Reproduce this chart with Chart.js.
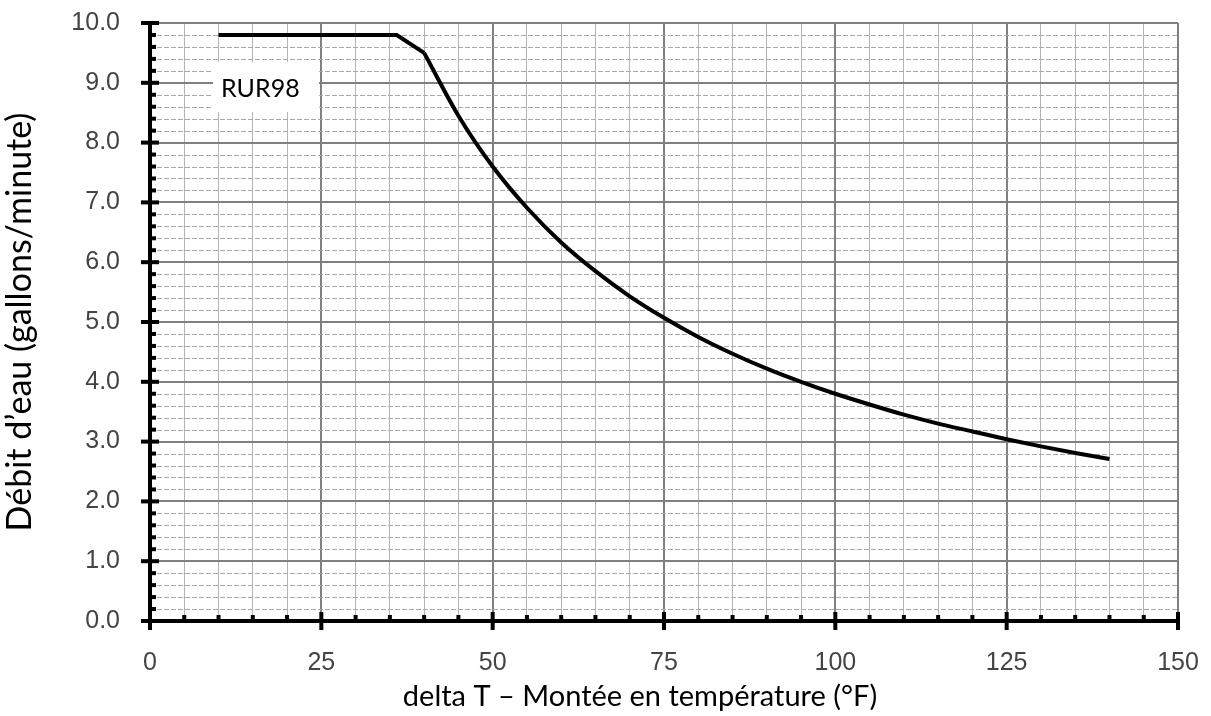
<!DOCTYPE html>
<html>
<head>
<meta charset="utf-8">
<script src="https://cdn.jsdelivr.net/npm/chart.js@4.4.1/dist/chart.umd.min.js"></script>
<style>
  html, body { margin: 0; padding: 0; background: #fff; }
  #wrap { width: 1211px; height: 716px; }
</style>
</head>
<body>
<div id="wrap"><canvas id="flowChart" width="1211" height="716"></canvas></div>
<script>
// delta T (°F) and water flow (gallons/minute)
const deltaT = [10, 36, 40, 45, 50, 55, 60, 65, 70, 75, 80, 85, 90, 95, 100, 105, 110, 115, 120, 125, 130, 135, 140];
const flow = [9.8, 9.8, 9.5, 8.45, 7.6, 6.91, 6.33, 5.85, 5.43, 5.07, 4.75, 4.47, 4.22, 4.0, 3.8, 3.62, 3.45, 3.3, 3.17, 3.04, 2.92, 2.81, 2.71];
const modelLabel = 'RUR98';
const xTitle = 'delta T – Montée en température (°F)';
const yTitle = 'Débit d’eau (gallons/minute)';

const points = deltaT.map((x, i) => ({ x: x, y: flow[i] }));
// flat part and the first drop are straight, the rest is a smooth curve
const kneeIdx = 2;

const isMajorY = v => Math.abs(v - Math.round(v)) < 0.01;

// minor dashed lines, black axes and tick marks, model label box, x title
const decorations = {
    id: 'decorations',
    beforeDatasetsDraw(chart) {
        const ctx = chart.ctx;
        const ys = chart.scales.y;
        const a = chart.chartArea;
        ctx.save();
        ctx.strokeStyle = '#a8a8a8';
        ctx.lineWidth = 1;
        ctx.setLineDash([5, 2]);
        for (let i = 1; i < 50; i++) {
            if (i % 5 === 0) continue;
            const py = Math.round(ys.getPixelForValue(i / 5)) + 0.5;
            ctx.beginPath();
            ctx.moveTo(a.left, py);
            ctx.lineTo(a.right, py);
            ctx.stroke();
        }
        ctx.restore();
    },
    afterDatasetsDraw(chart) {
        const ctx = chart.ctx;
        const xs = chart.scales.x, ys = chart.scales.y;
        const a = chart.chartArea;
        ctx.save();
        // label box
        const bx = xs.getPixelForValue(9.2), by = ys.getPixelForValue(9.35);
        ctx.fillStyle = '#fff';
        ctx.fillRect(bx, by, 106, 50);
        ctx.fillStyle = '#000';
        ctx.font = '25px Lato, "Liberation Sans", sans-serif';
        ctx.textBaseline = 'middle';
        ctx.fillText(modelLabel, bx + 8, by + 27);

        // x axis title
        ctx.font = '29px Lato, "Liberation Sans", sans-serif';
        ctx.textAlign = 'center';
        ctx.fillText(xTitle, xs.getPixelForValue(71.5), 697);
        ctx.textAlign = 'left';

        ctx.strokeStyle = '#000';
        ctx.lineWidth = 4;
        const x0 = xs.getPixelForValue(0), y0 = ys.getPixelForValue(0);
        ctx.beginPath();
        ctx.moveTo(x0, a.top);
        ctx.lineTo(x0, y0);
        ctx.lineTo(a.right, y0);
        ctx.stroke();
        // y ticks
        for (let i = 0; i <= 50; i++) {
            const py = ys.getPixelForValue(i / 5);
            if (i % 5 === 0) {
                ctx.fillRect(x0 - 9, py - 2, 18, 4);
            } else {
                ctx.fillRect(x0, py - 2, 6, 4);
            }
        }
        // x ticks
        for (let v = 0; v <= 150; v += 5) {
            const px = xs.getPixelForValue(v);
            if (v % 25 === 0) {
                ctx.fillRect(px - 2, y0 - 9, 4, 18);
            } else {
                ctx.fillRect(px - 2, y0 - 6, 4, 6);
            }
        }
        ctx.restore();
    }
};

new Chart(document.getElementById('flowChart').getContext('2d'), {
    type: 'scatter',
    data: {
        datasets: [{
            data: points.slice(0, kneeIdx + 1),
            showLine: true,
            borderColor: '#000',
            borderWidth: 4,
            pointRadius: 0,
            tension: 0
        }, {
            data: points.slice(kneeIdx),
            showLine: true,
            borderColor: '#000',
            borderWidth: 4,
            pointRadius: 0,
            cubicInterpolationMode: 'monotone'
        }]
    },
    options: {
        responsive: false,
        animation: false,
        layout: { padding: { top: 23, right: 33, left: 0, bottom: 0 } },
        plugins: {
            legend: { display: false },
            tooltip: { enabled: false }
        },
        scales: {
            x: {
                type: 'linear',
                min: 0,
                max: 150,
                afterFit(scale) {
                    scale.height = 95;
                    scale.paddingLeft = 0;
                    scale.paddingRight = 0;
                },
                border: { display: false },
                grid: {
                    drawTicks: false,
                    color: ctx => ctx.tick && ctx.tick.value % 25 === 0 ? '#808080' : '#b4b4b4',
                    lineWidth: ctx => ctx.tick && ctx.tick.value % 25 === 0 ? 2 : 1
                },
                ticks: {
                    stepSize: 5,
                    autoSkip: false,
                    maxRotation: 0,
                    padding: 27,
                    color: '#444',
                    font: { family: '"Liberation Sans", Arial, sans-serif', size: 25 },
                    callback: v => v % 25 === 0 ? String(v) : ''
                }
            },
            y: {
                type: 'linear',
                min: 0,
                max: 10,
                afterFit(scale) {
                    scale.width = 150;
                    scale.paddingTop = 0;
                    scale.paddingBottom = 0;
                },
                border: { display: false },
                grid: {
                    drawTicks: false,
                    color: ctx => ctx.tick && isMajorY(ctx.tick.value) ? '#808080' : 'rgba(0,0,0,0)',
                    lineWidth: ctx => ctx.tick && isMajorY(ctx.tick.value) ? 2 : 1
                },
                ticks: {
                    stepSize: 0.2,
                    autoSkip: false,
                    padding: 30,
                    color: '#444',
                    font: { family: '"Liberation Sans", Arial, sans-serif', size: 25 },
                    callback: v => isMajorY(v) ? Math.round(v).toFixed(1) : ''
                },
                title: {
                    display: true,
                    text: yTitle,
                    color: '#000',
                    font: { family: 'Lato, "Liberation Sans", sans-serif', size: 34 },
                    padding: { top: 0, bottom: 0 }
                }
            }
        }
    },
    plugins: [decorations]
});
</script>
</body>
</html>
